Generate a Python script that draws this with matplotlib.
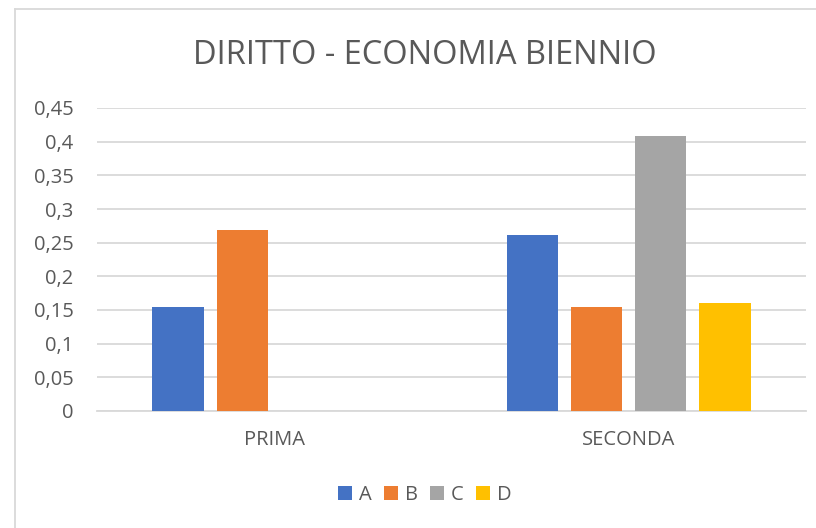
import matplotlib
matplotlib.use("Agg")
import matplotlib.pyplot as plt
import numpy as np
from matplotlib.lines import Line2D
from matplotlib.patches import Patch

categories = ["PRIMA", "SECONDA"]
series_names = ["A", "B", "C", "D"]
values = {
    "A": [0.154, 0.261],
    "B": [0.269, 0.154],
    "C": [0.0, 0.409],
    "D": [0.0, 0.160],
}
colors = ["#4472C4", "#ED7D31", "#A5A5A5", "#FFC000"]
yticks = [0, 0.05, 0.1, 0.15, 0.2, 0.25, 0.3, 0.35, 0.4, 0.45]
ytick_labels = ["0", "0,05", "0,1", "0,15", "0,2", "0,25", "0,3", "0,35", "0,4", "0,45"]
title = "DIRITTO - ECONOMIA BIENNIO"

plt.rcParams['font.family'] = ['Open Sans', 'DejaVu Sans']
W, H = 816, 528
fig = plt.figure(figsize=(W / 100, H / 100), dpi=100)
ax = fig.add_axes([97 / W, 1 - 411 / H, (806 - 97) / W, (411 - 108) / H])

text_color = "#595959"
grid_color = "#D9D9D9"

x = np.arange(len(categories))
step = 0.181
width = 0.144
for i, (name, col) in enumerate(zip(series_names, colors)):
    ax.bar(x + (i - 1.5) * step, values[name], width=width, color=col, zorder=3)

ax.set_xlim(-0.5, 1.5)
ax.set_ylim(0, 0.45)
ax.set_yticks(yticks)
ax.set_yticklabels(ytick_labels)
ax.set_xticks(x)
ax.set_xticklabels(categories)
ax.tick_params(axis='y', length=0, pad=17, labelsize=14.5, labelcolor=text_color)
ax.tick_params(axis='x', length=0, pad=14, labelsize=14.5, labelcolor=text_color)
ax.grid(axis='y', color=grid_color, linewidth=1.3, zorder=0)
for s in ["top", "right", "left"]:
    ax.spines[s].set_visible(False)
ax.spines["bottom"].set_color(grid_color)
ax.spines["bottom"].set_linewidth(1.3)

fig.text(425 / W, 1 - 55 / H, title, ha="center", va="center", fontsize=23.5,
         color=text_color)

handles = [Patch(facecolor=c, edgecolor='none') for c in colors]
fig.legend(handles, series_names, loc="center", bbox_to_anchor=(425 / W, 1 - 495 / H),
           ncol=4, frameon=False, fontsize=14.5, labelcolor=text_color,
           handlelength=0.68, handleheight=0.68, handletextpad=0.35, columnspacing=0.62)

# chart area border
fig.add_artist(Line2D([15 / W, 15 / W], [0, 1 - 9 / H], color=grid_color, linewidth=1.3,
                      transform=fig.transFigure))
fig.add_artist(Line2D([15 / W, 1], [1 - 9 / H, 1 - 9 / H], color=grid_color, linewidth=1.3,
                      transform=fig.transFigure))

fig.savefig("out.png", dpi=100)
